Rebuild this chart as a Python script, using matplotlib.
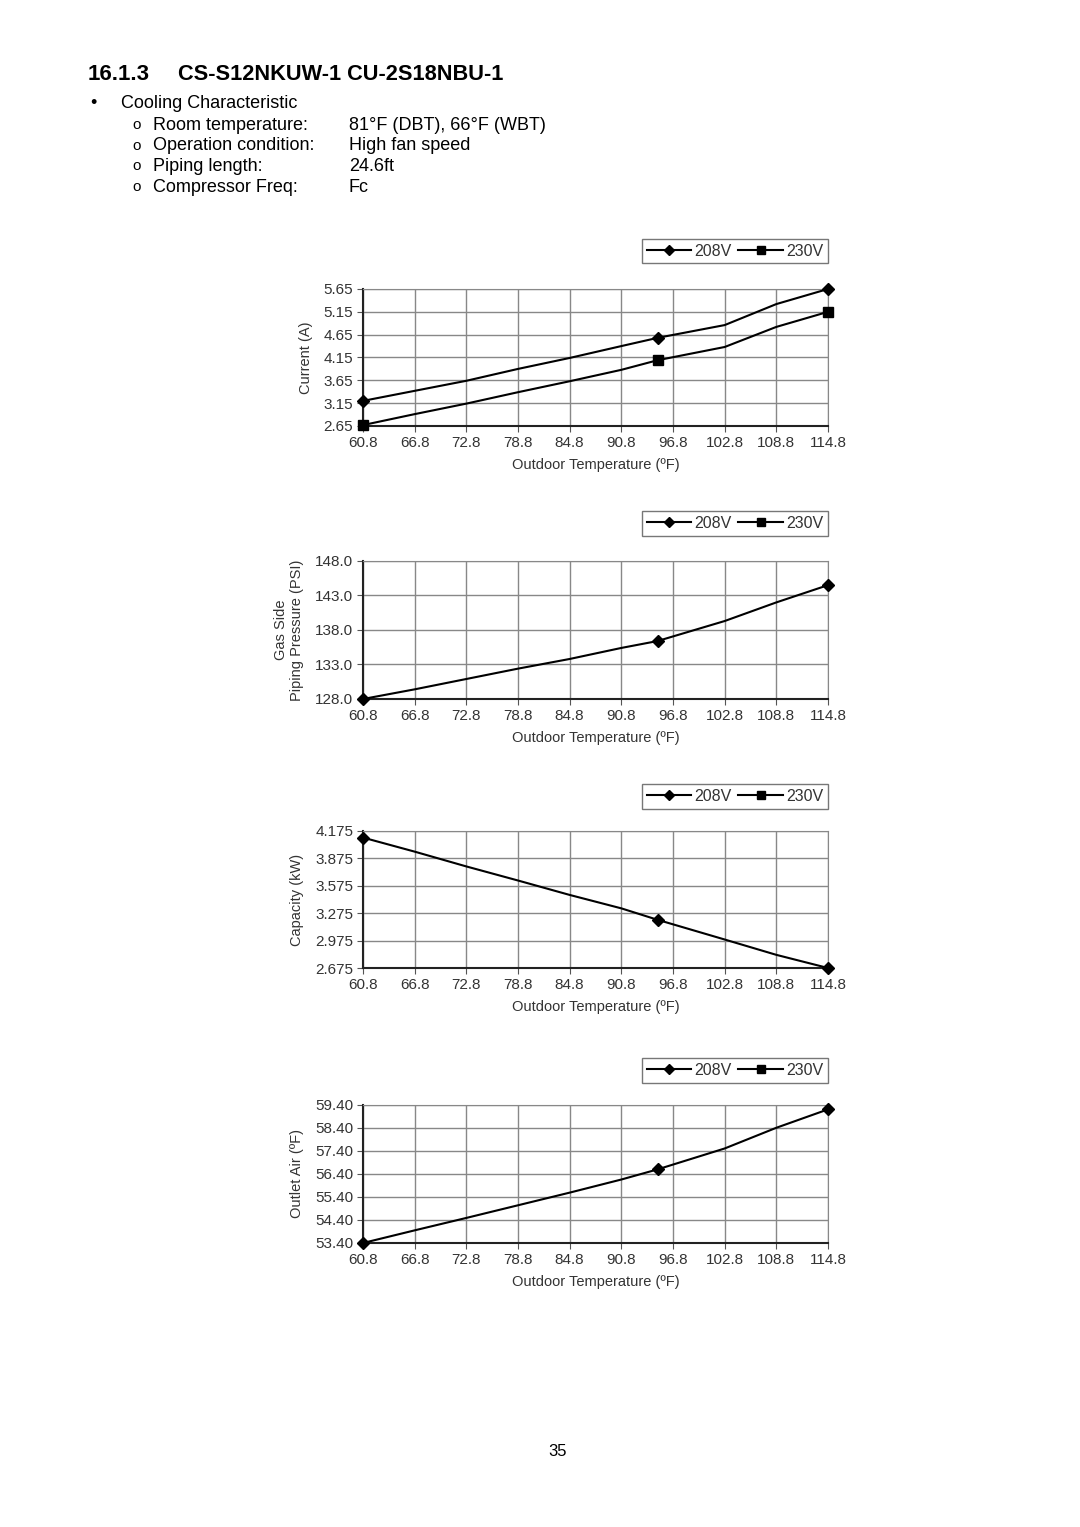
import numpy as np
import matplotlib
matplotlib.use("Agg")
import matplotlib.pyplot as plt
from matplotlib.lines import Line2D

plt.rcParams['font.family'] = ['Liberation Sans', 'DejaVu Sans']

# outdoor temperature (ºF); markers sit on 60.8, 95 and 114.8
temp = [60.8, 66.8, 72.8, 78.8, 84.8, 90.8, 95.0, 102.8, 108.8, 114.8]
marker_idx = [0, 6, 9]
x_ticks = [60.8, 66.8, 72.8, 78.8, 84.8, 90.8, 96.8, 102.8, 108.8, 114.8]

current_208 = [3.20, 3.42, 3.64, 3.90, 4.14, 4.40, 4.58, 4.86, 5.32, 5.65]
current_230 = [2.67, 2.91, 3.14, 3.39, 3.63, 3.88, 4.09, 4.38, 4.82, 5.15]
pressure_208 = [128.0, 129.4, 130.9, 132.4, 133.8, 135.4, 136.4, 139.3, 142.0, 144.5]
capacity_208 = [4.103, 3.949, 3.787, 3.633, 3.475, 3.328, 3.203, 2.987, 2.819, 2.675]
outlet_208 = [53.40, 53.95, 54.49, 55.04, 55.59, 56.16, 56.60, 57.51, 58.41, 59.21]

current_ticks = [2.65, 3.15, 3.65, 4.15, 4.65, 5.15, 5.65]
pressure_ticks = [128.0, 133.0, 138.0, 143.0, 148.0]
capacity_ticks = [2.675, 2.975, 3.275, 3.575, 3.875, 4.175]
outlet_ticks = [53.40, 54.40, 55.40, 56.40, 57.40, 58.40, 59.40]

W, H = 1080, 1527
fig = plt.figure(figsize=(W / 100, H / 100), dpi=100)
fig.patch.set_facecolor('white')

TXT = '#333333'


def px_rect(left, top, right, bottom):
    return [left / W, 1 - bottom / H, (right - left) / W, (bottom - top) / H]


# heading text
fig.text(88 / W, 1 - 75 / H, "16.1.3", fontsize=16, fontweight='bold',
         va='center', ha='left')
fig.text(178 / W, 1 - 75 / H, "CS-S12NKUW-1 CU-2S18NBU-1",
         fontsize=15.7, fontweight='bold', va='center', ha='left')
fig.text(90 / W, 1 - 104 / H, "\u2022", fontsize=13, va='center')
fig.text(121 / W, 1 - 104 / H, "Cooling Characteristic", fontsize=13, va='center')
rows = [("Room temperature:", "81°F (DBT), 66°F (WBT)"),
        ("Operation condition:", "High fan speed"),
        ("Piping length:", "24.6ft"),
        ("Compressor Freq:", "Fc")]
for i, (lab, val) in enumerate(rows):
    y = 1 - (125 + i * 20.7) / H
    fig.text(132 / W, y, "o", fontsize=11, va='center')
    fig.text(153 / W, y, lab, fontsize=13, va='center')
    fig.text(349 / W, y, val, fontsize=13, va='center')

fig.text(558 / W, 1 - 1451 / H, "35", fontsize=12, ha='center', va='center')


def make_chart(top, bottom, leg_top, leg_bottom, series, yticks, ylabel, fmt):
    ax = fig.add_axes(px_rect(363, top, 828, bottom))
    for vals, mk in series:
        ax.plot(temp, vals, color='black', lw=1.5, marker=mk, ms=6.5,
                markevery=marker_idx, clip_on=False, zorder=3)
    ax.set_xlim(x_ticks[0], x_ticks[-1])
    ax.set_ylim(yticks[0], yticks[-1])
    ax.set_xticks(x_ticks)
    ax.set_xticklabels([f"{t:.1f}" for t in x_ticks])
    ax.set_yticks(yticks)
    ax.set_yticklabels([fmt.format(t) for t in yticks])
    ax.grid(True, color='#888888', lw=1)
    ax.tick_params(direction='out', length=4, color='#555555', labelsize=11,
                   labelcolor=TXT, pad=3)
    for s in ['top', 'right']:
        ax.spines[s].set_color('#888888')
    for s in ['left', 'bottom']:
        ax.spines[s].set_color('#222222')
        ax.spines[s].set_linewidth(1.5)
    ax.set_xlabel("Outdoor Temperature (ºF)", fontsize=10.5, color=TXT, labelpad=6)
    ax.set_ylabel(ylabel, fontsize=10.5, color=TXT, labelpad=8)
    handles = [Line2D([], [], color='black', lw=1.5, marker='D', ms=5.5),
               Line2D([], [], color='black', lw=1.5, marker='s', ms=5.5)]
    fig.legend(handles, ['208V', '230V'], ncol=2, loc='center right',
               bbox_to_anchor=(828 / W, 1 - (leg_top + leg_bottom) / 2 / H),
               borderaxespad=0, fancybox=False, edgecolor='#777777',
               framealpha=1, fontsize=11.5, handlelength=2.8,
               handletextpad=0.2, columnspacing=0.4, borderpad=0.3,
               labelcolor=TXT)
    return ax


make_chart(289, 426, 238, 264,
           [(current_208, 'D'), (current_230, 's')],
           current_ticks, "Current (A)", "{:.2f}")
make_chart(561, 699, 511, 536,
           [(pressure_208, 'D')],
           pressure_ticks, "Gas Side\nPiping Pressure (PSI)", "{:.1f}")
make_chart(831, 968, 784, 809,
           [(capacity_208, 'D')],
           capacity_ticks, "Capacity (kW)", "{:.3f}")
make_chart(1105, 1243, 1058, 1083,
           [(outlet_208, 'D')],
           outlet_ticks, "Outlet Air (ºF)", "{:.2f}")

fig.savefig("out.png", dpi=100)
